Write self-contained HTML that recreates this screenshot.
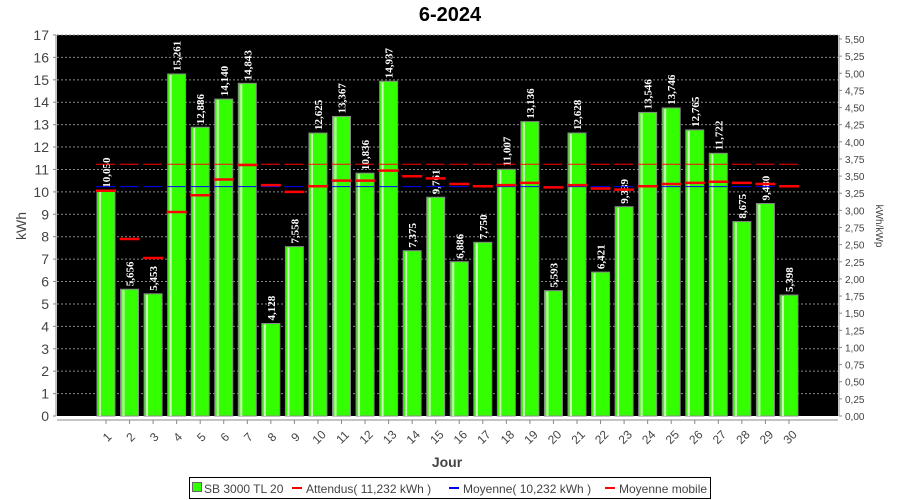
<!DOCTYPE html>
<html><head><meta charset="utf-8"><style>
body{margin:0;background:#fff;width:900px;height:500px;overflow:hidden}
svg{display:block}
</style></head><body>
<svg id="c" width="900" height="500" xmlns="http://www.w3.org/2000/svg" font-family="Liberation Sans, sans-serif"></svg>
<script>
const vals=[10.050,5.656,5.453,15.261,12.886,14.140,14.843,4.128,7.558,12.625,13.367,10.836,14.937,7.375,9.761,6.886,7.750,11.007,13.136,5.593,12.628,6.421,9.339,13.546,13.746,12.765,11.722,8.675,9.480,5.398];
const mob=[10.05,7.9,7.05,9.1,9.85,10.55,11.2,10.3,10.0,10.25,10.5,10.5,10.95,10.7,10.6,10.35,10.25,10.3,10.4,10.2,10.3,10.15,10.1,10.25,10.35,10.4,10.45,10.4,10.35,10.25];
const L=57,R=838,T=35,B=416,py=(B-T)/17;
const Y=v=>B-v*py, X=i=>106+i*23.55;
let s='';
s+=`<text x="450" y="21" text-anchor="middle" font-size="20" font-weight="bold" fill="#000">6-2024</text>`;
s+=`<rect x="${L}" y="${T}" width="${R-L}" height="${B-T}" fill="#000"/>`;
for(let v=1;v<=17;v++){s+=`<line x1="${L}" x2="${R}" y1="${Y(v)}" y2="${Y(v)}" stroke="#888" stroke-dasharray="2,2" stroke-width="1"/>`;}
for(let v=0;v<=17;v++){s+=`<line x1="${L-4}" x2="${L-1}" y1="${Y(v)}" y2="${Y(v)}" stroke="#888"/><text x="${L-8}" y="${Y(v)+5}" text-anchor="end" font-size="14" fill="#444">${v}</text>`;}
s+=`<line x1="${L-1}" x2="${L-1}" y1="${T}" y2="${B}" stroke="#888"/>`;
// right axis
const ry=v=>B-v*(B-39)/5.5;
for(let k=0;k<=22;k++){const v=k*0.25;s+=`<line x1="${R+1}" x2="${R+4}" y1="${ry(v)}" y2="${ry(v)}" stroke="#888"/><text x="${R+7}" y="${ry(v)+4}" font-size="10" fill="#444">${v.toFixed(2).replace('.',',')}</text>`;}
s+=`<line x1="${R+1}" x2="${R+1}" y1="${T}" y2="${B}" stroke="#888"/>`;
s+=`<line x1="${L}" x2="${R}" y1="${B+4}" y2="${B+4}" stroke="#888"/>`;
vals.forEach((v,i)=>{const x=X(i);
s+=`<rect x="${x-9}" y="${Y(v)}" width="18" height="${B-Y(v)}" fill="#33ff00" stroke="#888" stroke-width="1"/>`;
s+=`<rect x="${x-7}" y="${Y(v)+1}" width="2" height="${B-Y(v)-1}" fill="#ccffbb"/>`;
s+=`<line x1="${x}" x2="${x}" y1="${B+4}" y2="${B+8}" stroke="#888"/>`;
s+=`<text transform="translate(${x+4},${B+24}) rotate(-45)" text-anchor="middle" font-size="12" fill="#444">${i+1}</text>`;
s+=`<text transform="translate(${x+4},${Y(v)-3}) rotate(-90)" font-size="11" font-weight="bold" font-family="Liberation Serif, serif" fill="#fff">${v.toFixed(3).replace('.',',')}</text>`;
});
vals.forEach((v,i)=>{const x=X(i);
s+=`<line x1="${x-10}" x2="${x+9}" y1="${Y(11.232)}" y2="${Y(11.232)}" stroke="#f00" stroke-width="1"/>`;
s+=`<line x1="${x-10}" x2="${x+9}" y1="${Y(10.232)}" y2="${Y(10.232)}" stroke="#00f" stroke-width="1"/>`;
s+=`<line x1="${x-10}" x2="${x+10}" y1="${Y(mob[i])}" y2="${Y(mob[i])}" stroke="#f00" stroke-width="2.5"/>`;
});
s+=`<text x="447" y="467" text-anchor="middle" font-size="14" font-weight="bold" fill="#444">Jour</text>`;
s+=`<text transform="translate(26,226) rotate(-90)" text-anchor="middle" font-size="14" fill="#444">kWh</text>`;
s+=`<text transform="translate(876,226) rotate(90)" text-anchor="middle" font-size="10" fill="#444">kWh/kWp</text>`;
// legend
s+=`<rect x="189.5" y="477.5" width="521" height="21" fill="#fff" stroke="#000"/>`;
s+=`<rect x="192.5" y="482.5" width="9" height="9" fill="#33ff00" stroke="#666"/>`;
s+=`<text x="204" y="493" font-size="12" fill="#444">SB 3000 TL 20</text>`;
s+=`<line x1="292" x2="302" y1="488" y2="488" stroke="#f00" stroke-width="2"/><text x="306" y="493" font-size="12" fill="#444">Attendus( 11,232 kWh )</text>`;
s+=`<line x1="449" x2="459" y1="488" y2="488" stroke="#00f" stroke-width="2"/><text x="463" y="493" font-size="12" fill="#444">Moyenne( 10,232 kWh )</text>`;
s+=`<line x1="605" x2="615" y1="488" y2="488" stroke="#f00" stroke-width="2"/><text x="619" y="493" font-size="12" fill="#444">Moyenne mobile</text>`;
document.getElementById('c').innerHTML=s;
</script>
</body></html>
